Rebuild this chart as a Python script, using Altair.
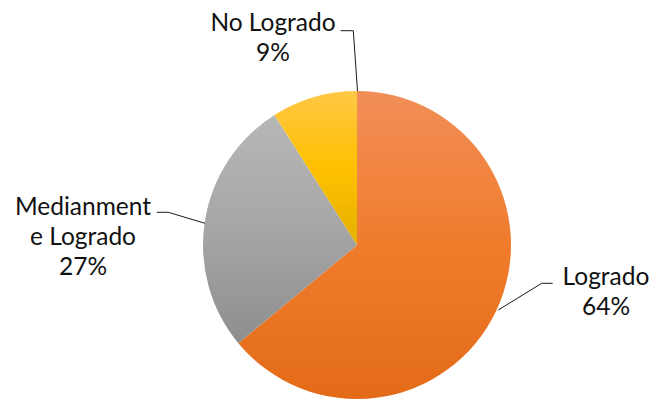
import altair as alt
import pandas as pd

# ---- data ----
categories = ["Logrado", "Medianamente Logrado", "No Logrado"]
values = [64, 27, 9]
label_names = ["Logrado", "Medianment\ne Logrado", "No Logrado"]

# ---- layout (pixels, chart coordinates) ----
W, H = 641, 392
CX, CY, R = 349, 237, 154
FONT = "Lato"
FS = 24.5
label_pos = [(598, 277), (75, 207), (265, 23)]   # first-line baseline centre
leaders = [
    [(544.7, 275.3), (533.7, 275.3), (490.3, 302)],
    [(148.7, 204.3), (160.3, 204.3), (197, 215.3)],
    [(332.7, 22.7), (345.3, 22.7), (349.5, 83)],
]

gradients = {
    "Logrado": ["#F18E58", "#F07C2C", "#E36B18"],
    "Medianamente Logrado": ["#B7B7B7", "#A6A6A6", "#8E8E8E"],
    "No Logrado": ["#FFC746", "#FFC000", "#E5B000"],
}


def grad(stops):
    return {
        "gradient": "linear",
        "x1": 0, "y1": 0, "x2": 0, "y2": 1,
        "stops": [
            {"offset": 0, "color": stops[0]},
            {"offset": 0.5, "color": stops[1]},
            {"offset": 1, "color": stops[2]},
        ],
    }


pie_df = pd.DataFrame({"cat": categories, "value": values, "order": range(len(values))})

base = (
    alt.Chart(pie_df)
    .transform_joinaggregate(total="sum(value)")
    .transform_window(cum="sum(value)", sort=[{"field": "order"}], frame=[None, 0])
    .transform_calculate(
        t1="(datum.cum - datum.value) / datum.total * 2 * PI",
        t2="datum.cum / datum.total * 2 * PI",
    )
)

arcs = []
for c in categories:
    arcs.append(
        base.transform_filter(alt.datum.cat == c)
        .mark_arc(radius=R, color=grad(gradients[c]), strokeWidth=0)
        .encode(
            theta=alt.Theta("t1:Q", scale=None, stack=None),
            theta2="t2:Q",
            x=alt.value(CX),
            y=alt.value(CY),
        )
    )

# leader lines
seg_rows = []
for pts in leaders:
    for (x1, y1), (x2, y2) in zip(pts[:-1], pts[1:]):
        seg_rows.append({"x": x1, "y": y1, "x2": x2, "y2": y2})
seg_df = pd.DataFrame(seg_rows)
rules = alt.Chart(seg_df).mark_rule(color="#1a1a1a", strokeWidth=1).encode(
    x=alt.X("x:Q", scale=None, axis=None),
    y=alt.Y("y:Q", scale=None, axis=None),
    x2="x2:Q",
    y2="y2:Q",
)

# labels
lab_df = pd.DataFrame({
    "text": [f"{n}\n{v}%" for n, v in zip(label_names, values)],
    "tx": [p[0] for p in label_pos],
    "ty": [p[1] for p in label_pos],
})
labels = alt.Chart(lab_df).mark_text(
    font=FONT, fontSize=FS, color="#111111", align="center", baseline="alphabetic",
    lineBreak="\n", lineHeight=30,
).encode(
    x=alt.X("tx:Q", scale=None, axis=None),
    y=alt.Y("ty:Q", scale=None, axis=None),
    text="text:N",
)

chart = (
    alt.layer(*arcs, rules, labels)
    .properties(width=W, height=H, padding=0, autosize="none", background="white")
    .configure_view(stroke=None)
)

chart.save("out.html", embed_options={"renderer": "svg", "actions": False})
